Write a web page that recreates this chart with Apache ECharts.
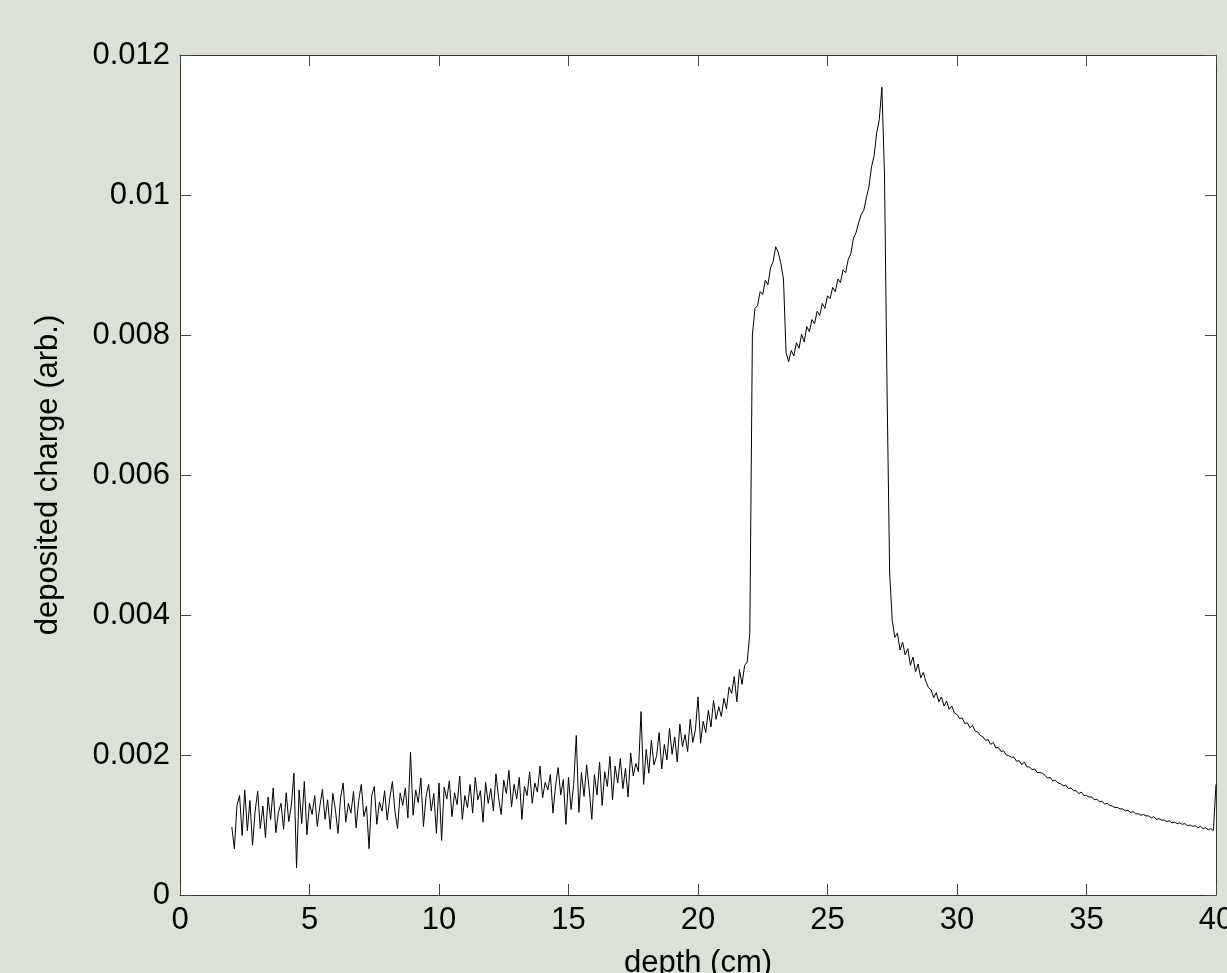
<!DOCTYPE html>
<html>
<head>
<meta charset="utf-8">
<script src="https://cdn.jsdelivr.net/npm/echarts@6/dist/echarts.min.js"></script>
<style>
html,body{margin:0;padding:0;background:#dce1d5;}
#chart{width:1227px;height:973px;}
</style>
</head>
<body>
<div id="chart"></div>
<script>
// sampling grid of the depth axis (cm)
const depthStart = 2.0;
const depthStep = 0.1;
// deposited charge (arb.), one row per cm of depth
const charge = [
  0.00097,0.00066,0.00128,0.00142,0.00085,0.00150,0.00092,0.00135,0.00071,0.00120,
  0.00148,0.00095,0.00127,0.00082,0.00140,0.00108,0.00153,0.00089,0.00118,0.00131,
  0.00094,0.00146,0.00105,0.00128,0.00174,0.00039,0.00150,0.00102,0.00162,0.00086,
  0.00131,0.00115,0.00142,0.00098,0.00127,0.00151,0.00108,0.00136,0.00094,0.00145,
  0.00122,0.00088,0.00139,0.00160,0.00104,0.00131,0.00117,0.00148,0.00096,0.00135,
  0.00158,0.00112,0.00127,0.00066,0.00142,0.00155,0.00101,0.00133,0.00120,0.00149,
  0.00107,0.00138,0.00162,0.00119,0.00095,0.00146,0.00128,0.00153,0.00110,0.00204,
  0.00114,0.00150,0.00132,0.00167,0.00098,0.00141,0.00158,0.00120,0.00145,0.00088,
  0.00160,0.00078,0.00154,0.00137,0.00163,0.00112,0.00146,0.00129,0.00170,0.00108,
  0.00142,0.00125,0.00158,0.00117,0.00168,0.00136,0.00149,0.00104,0.00161,0.00131,
  0.00152,0.00120,0.00173,0.00139,0.00115,0.00164,0.00145,0.00178,0.00126,0.00158,
  0.00137,0.00168,0.00108,0.00155,0.00142,0.00176,0.00131,0.00160,0.00147,0.00184,
  0.00139,0.00161,0.00150,0.00172,0.00117,0.00156,0.00182,0.00143,0.00165,0.00101,
  0.00168,0.00122,0.00158,0.00228,0.00118,0.00175,0.00141,0.00186,0.00150,0.00108,
  0.00172,0.00143,0.00190,0.00128,0.00176,0.00155,0.00198,0.00136,0.00184,0.00160,
  0.00195,0.00152,0.00181,0.00140,0.00203,0.00170,0.00188,0.00176,0.00262,0.00158,
  0.00208,0.00174,0.00221,0.00186,0.00198,0.00232,0.00180,0.00215,0.00193,0.00238,
  0.00201,0.00226,0.00190,0.00244,0.00212,0.00229,0.00205,0.00251,0.00218,0.00236,
  0.00283,0.00217,0.00248,0.00232,0.00264,0.00240,0.00278,0.00251,0.00269,0.00255,
  0.00281,0.00266,0.00297,0.00288,0.00312,0.00276,0.00322,0.00301,0.00328,0.00333,
  0.00374,0.00800,0.00838,0.00842,0.00862,0.00858,0.00878,0.00872,0.00896,0.00905,
  0.00926,0.00918,0.00902,0.00880,0.00775,0.00762,0.00778,0.00770,0.00789,0.00781,
  0.00801,0.00790,0.00812,0.00805,0.00822,0.00816,0.00834,0.00828,0.00845,0.00838,
  0.00856,0.00852,0.00868,0.00862,0.00880,0.00875,0.00893,0.00889,0.00908,0.00916,
  0.00938,0.00946,0.00960,0.00972,0.00978,0.00996,0.01012,0.01040,0.01056,0.01089,
  0.01108,0.01154,0.01030,0.00720,0.00460,0.00392,0.00368,0.00374,0.00350,0.00361,
  0.00343,0.00352,0.00328,0.00340,0.00319,0.00330,0.00310,0.00318,0.00305,0.00296,
  0.00293,0.00282,0.00289,0.00276,0.00283,0.00270,0.00277,0.00265,0.00270,0.00260,
  0.00258,0.00252,0.00253,0.00245,0.00246,0.00239,0.00242,0.00234,0.00233,0.00228,
  0.00226,0.00221,0.00222,0.00215,0.00218,0.00210,0.00211,0.00205,0.00206,0.00200,
  0.00199,0.00197,0.00197,0.00191,0.00192,0.00186,0.00190,0.00183,0.00183,0.00179,
  0.00180,0.00175,0.00175,0.00174,0.00171,0.00167,0.00168,0.00163,0.00164,0.00160,
  0.00159,0.00156,0.00157,0.00152,0.00153,0.00149,0.00149,0.00145,0.00147,0.00142,
  0.00142,0.00140,0.00140,0.00136,0.00137,0.00133,0.00134,0.00130,0.00131,0.00128,
  0.00127,0.00125,0.00125,0.00123,0.00123,0.00120,0.00121,0.00118,0.00119,0.00116,
  0.00116,0.00114,0.00115,0.00113,0.00113,0.00110,0.00112,0.00108,0.00109,0.00107,
  0.00107,0.00105,0.00106,0.00103,0.00104,0.00102,0.00103,0.00101,0.00102,0.00099,
  0.00100,0.00098,0.00099,0.00096,0.00098,0.00095,0.00096,0.00093,0.00095,0.00092,
  0.00158
];
const xTicks = {min: 0, max: 40, interval: 5};
const yTicks = {min: 0, max: 0.012, interval: 0.002};
const xLabel = 'depth (cm)';
const yLabel = 'deposited charge (arb.)';

const points = charge.map((v, i) => [+(depthStart + i * depthStep).toFixed(2), v]);

const FONT = '"Liberation Sans", Arial, sans-serif';
const FS = 31;
const tick = () => ({show: true, inside: true, length: 11, lineStyle: {color: '#444', width: 1}});
const line = () => ({show: true, onZero: false, lineStyle: {color: '#333', width: 1}});
const label = () => ({color: '#000', fontSize: FS, fontFamily: FONT, margin: 10});

const chart = echarts.init(document.getElementById('chart'), null, {renderer: 'canvas'});
chart.setOption({
  backgroundColor: '#dce1d5',
  animation: false,
  grid: {left: 180, right: 11, top: 55, bottom: 78, containLabel: false, outerBoundsMode: 'none',
         show: true, backgroundColor: '#ffffff', borderWidth: 0},
  xAxis: [
    Object.assign({type: 'value', position: 'bottom', axisLine: line(), axisTick: tick(),
      axisLabel: label(), splitLine: {show: false},
      name: xLabel, nameLocation: 'middle', nameGap: 53,
      nameTextStyle: {color: '#000', fontSize: FS, fontFamily: FONT}}, xTicks),
    Object.assign({type: 'value', position: 'top', axisLine: line(), axisTick: tick(),
      axisLabel: {show: false}, splitLine: {show: false}}, xTicks)
  ],
  yAxis: [
    Object.assign({type: 'value', position: 'left', axisLine: line(), axisTick: tick(),
      axisLabel: Object.assign({formatter: v => String(+v.toFixed(3))}, label()),
      splitLine: {show: false},
      name: yLabel, nameLocation: 'middle', nameGap: 116,
      nameTextStyle: {color: '#000', fontSize: FS, fontFamily: FONT}}, yTicks),
    Object.assign({type: 'value', position: 'right', axisLine: line(), axisTick: tick(),
      axisLabel: {show: false}, splitLine: {show: false}}, yTicks)
  ],
  series: [{
    type: 'line', xAxisIndex: 0, yAxisIndex: 0, data: points,
    showSymbol: false, symbol: 'none', silent: true, sampling: null,
    lineStyle: {color: '#000', width: 1}
  }]
});
</script>
</body>
</html>
